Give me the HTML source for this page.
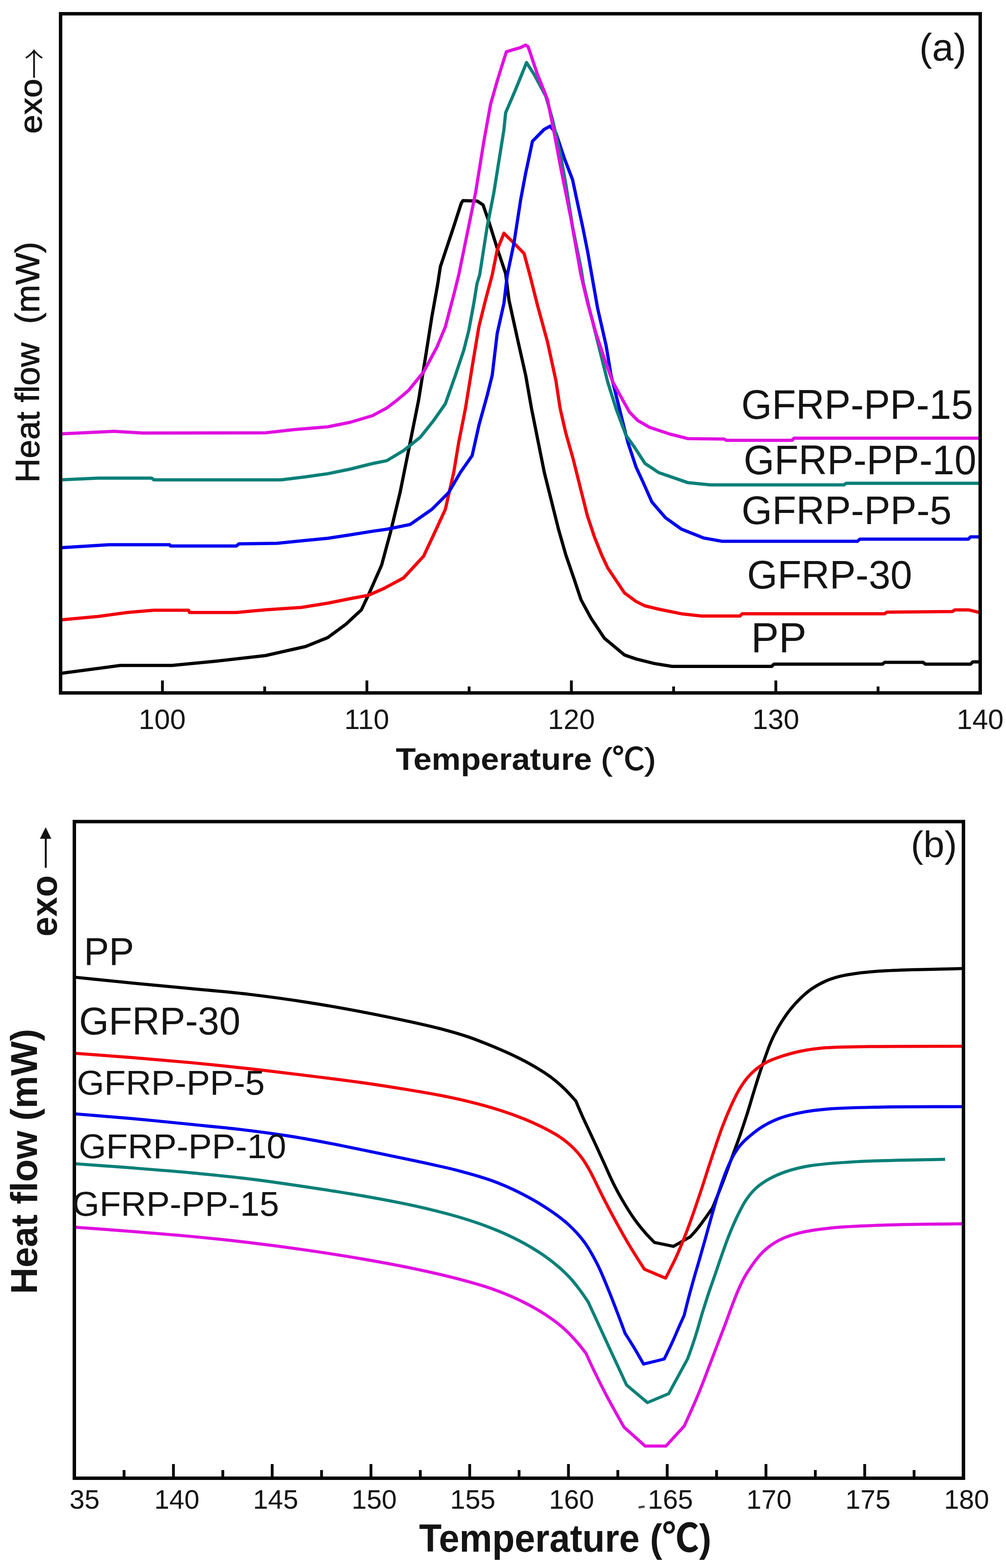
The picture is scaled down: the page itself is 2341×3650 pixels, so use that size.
<!DOCTYPE html><html><head><meta charset="utf-8"><title>DSC curves</title><style>html,body{margin:0;padding:0;background:#fff;}svg{display:block;}</style></head><body>
<svg width="2341" height="3650" viewBox="0 0 2341 3650">
<rect x="0" y="0" width="2341" height="3650" fill="#ffffff"/>
<g fill="none" stroke-linejoin="round" stroke-linecap="butt">
<polyline stroke="#000000" stroke-width="7.5" points="141,1567.5 280,1549 400,1549 503.6,1539 618,1526 711,1505 763,1484 805,1453 841,1419.5 857,1385.7 888,1315.6 909,1237.7 931,1146.4 946.7,1068.5 958.4,1010 974,932 989.6,834.8 1005,737 1018.8,660 1024.7,621 1032.5,597.6 1055.8,527.5 1073.4,473 1077.2,467 1110.4,468 1124,476.8 1137.6,515.8 1157,578 1176.6,636.5 1184.4,698.4 1204,788 1223.3,873.7 1236.7,950 1250,1016.7 1266.7,1100 1283.3,1166.7 1300,1233.3 1316.7,1291.7 1336.7,1350 1352,1396 1375.3,1439 1406.4,1485.7 1453.2,1524.6 1480,1533.9 1522,1544.4 1564,1551.2 1795.6,1551.2 1801,1546 2053.4,1546 2058.6,1541.8 2148,1541.8 2153.3,1546 2258.5,1546 2263.8,1540.7 2281,1540.7"/>
<polyline stroke="#f2000c" stroke-width="7.5" points="141,1443 228,1435 296,1425.7 358,1420.5 438.7,1420.5 441,1425.7 550,1425.7 618,1419.5 701,1414 763,1404 815,1393.5 857,1385.7 893,1370 939,1345.4 985.7,1294.8 1013,1236.3 1036.3,1185.7 1055.8,1100 1067.5,1029.6 1083,951.6 1098.7,854.3 1114.3,760.8 1129.8,698.4 1145.4,640 1157,582 1172.7,543 1180.5,550.8 1200,570 1219.4,589.8 1233,640 1250.6,710 1274,795.8 1293.5,885.4 1303.3,950 1316.7,1008.3 1333.3,1066.7 1350,1133.3 1366.7,1200 1383.3,1250 1400,1291.7 1414.2,1322 1453,1380 1480,1400 1500,1410 1532.6,1418 1585.2,1428.7 1632.5,1434 1722,1434 1727,1428.7 2058.6,1428.7 2064,1425 2216.5,1423.4 2221.7,1419.7 2253.3,1419.7 2281,1426"/>
<polyline stroke="#0000ee" stroke-width="7.5" points="141,1275 254,1268 394.5,1268 397,1271 550,1271 555.6,1266 644,1264.7 711,1258 763,1253 815,1245 867,1236.6 900,1232 954.5,1220.8 1005,1185.7 1044,1146.7 1071.4,1099.7 1098.7,1060.7 1114.3,990.6 1133.7,920.5 1145.4,873.7 1157,776.3 1172.7,706 1180.5,640 1196,566 1211.6,465 1223.3,402.8 1235,348 1239,328.8 1266,301.5 1279.8,293.7 1293.5,309.3 1313,367.8 1332.4,418.4 1344,473 1355.8,527.5 1367.5,586 1377,640 1390.8,718 1410.3,803.6 1422,873.7 1437.6,936 1461,1029.6 1480.4,1088 1495.8,1121 1516.8,1168.3 1548.4,1205 1585.2,1231.4 1637.8,1252.4 1680,1260 1995.5,1260 2000.8,1255 2253.3,1255 2258.5,1249.8 2281,1249.8"/>
<polyline stroke="#0a8078" stroke-width="7.5" points="141,1117 228,1113 353,1113 358,1117 654,1117 711,1110 763,1102.6 815,1092 867,1079 900,1072.4 939,1049 978,1017.9 1009,979 1036.3,940 1059.7,873.7 1079.2,815.3 1091,768.6 1102.6,706 1110,660 1116.2,640 1133.7,527.5 1149,449.6 1172.7,301.5 1176.6,262.6 1200,208 1225.3,145.7 1242.8,173 1270,223.6 1285.7,278 1305,363.9 1316.8,430 1332.4,527.5 1352,625 1357.7,660 1371.4,718 1394.7,811.4 1414.2,889.3 1433.7,951.6 1457,1014 1476.5,1041 1501,1078.9 1532.6,1100 1601,1123.6 1653.6,1128.8 1964,1128.8 1969,1125 2281,1125"/>
<polyline stroke="#e010e0" stroke-width="7.5" points="141,1010 265,1004 332,1008 618,1007.5 685,1000 763,993.5 815,983 867,967.5 900,949.7 923.4,932 950.6,908.8 985.7,866 1016.9,807.5 1036.3,760.8 1055.8,686.7 1067.5,640 1106.5,449.6 1126,328.8 1141.5,243 1157,188.6 1172.7,138 1178.5,120.4 1211.6,110.6 1223,104.8 1229,108.7 1250.6,173 1274,231.4 1289.6,309.3 1305,391 1328.5,508 1351.9,640 1367.5,706 1387,776.3 1406.4,834.8 1426,889.3 1445.4,924.4 1464.9,959.4 1484.3,979 1511.6,994.7 1559,1010.5 1601,1021 1685,1022 1690.4,1025 1843,1025 1848,1020 2281,1020"/>
<path stroke="#000000" stroke-width="7.2" d="M176.0,2275.0 C220.0,2279.5 263.7,2284.1 307.9,2288.4 C352.6,2292.8 397.7,2296.8 442.8,2301.2 C488.1,2305.5 533.7,2309.2 579.0,2314.5 C624.2,2319.9 669.8,2326.1 714.4,2333.1 C758.1,2339.9 802.3,2347.8 843.8,2355.7 C882.4,2363.0 921.1,2371.1 955.3,2378.6 C984.4,2385.0 1012.4,2391.3 1036.2,2397.7 C1055.4,2402.8 1071.6,2407.6 1087.6,2413.0 C1102.0,2417.8 1114.6,2422.8 1127.9,2428.1 C1141.1,2433.2 1154.0,2438.5 1166.9,2444.2 C1180.0,2449.9 1193.0,2455.8 1205.9,2462.3 C1218.9,2468.8 1232.0,2475.8 1244.5,2483.2 C1257.0,2490.6 1269.5,2498.2 1280.9,2506.7 C1292.0,2514.9 1302.2,2523.8 1312.1,2533.1 C1321.9,2542.5 1340.0,2563.0 1340.0,2563.0 C1340.0,2563.0 1349.5,2585.5 1354.5,2596.7 C1359.5,2608.1 1364.9,2619.1 1370.3,2630.7 C1376.0,2642.9 1381.9,2655.3 1387.8,2668.2 C1394.0,2681.7 1400.2,2695.6 1406.7,2709.8 C1413.4,2724.7 1420.1,2740.5 1427.6,2755.3 C1435.0,2770.2 1443.1,2784.8 1451.4,2799.0 C1459.6,2812.8 1468.5,2827.0 1477.2,2839.2 C1485.1,2850.2 1493.2,2860.1 1501.1,2869.2 C1508.4,2877.6 1522.9,2892.2 1522.9,2892.2 C1522.9,2892.2 1567.0,2901.3 1567.0,2901.3 C1567.0,2901.3 1606.0,2879.2 1606.0,2879.2 C1606.0,2879.2 1617.9,2866.4 1623.5,2859.4 C1629.4,2852.3 1634.8,2844.6 1640.4,2836.8 C1646.3,2828.7 1658.0,2811.7 1658.0,2811.7 C1658.0,2811.7 1673.4,2774.4 1680.9,2754.9 C1688.8,2734.4 1697.0,2711.4 1704.2,2691.7 C1710.6,2674.3 1716.4,2658.8 1722.0,2642.7 C1727.5,2627.0 1732.5,2612.1 1737.6,2596.2 C1742.9,2579.6 1748.0,2561.6 1753.1,2544.9 C1758.0,2529.1 1762.8,2513.0 1767.6,2498.5 C1771.8,2485.6 1776.1,2473.7 1780.2,2462.2 C1783.9,2451.9 1787.1,2442.2 1791.0,2432.7 C1794.7,2423.7 1798.2,2415.6 1802.7,2406.9 C1807.4,2397.7 1812.7,2388.2 1818.6,2378.9 C1824.8,2369.2 1831.7,2358.9 1839.1,2349.7 C1846.4,2340.5 1854.3,2331.8 1862.7,2323.8 C1871.0,2315.9 1879.6,2308.3 1889.0,2301.8 C1898.5,2295.2 1908.7,2289.4 1919.5,2284.6 C1930.7,2279.6 1942.6,2275.8 1955.2,2272.6 C1968.7,2269.2 1983.4,2267.1 1998.2,2265.1 C2013.6,2263.1 2028.8,2261.8 2045.7,2260.7 C2064.7,2259.3 2085.4,2258.5 2106.5,2257.8 C2129.5,2257.0 2155.2,2256.7 2178.4,2256.2 C2200.2,2255.6 2220.8,2255.1 2242.0,2254.5"/>
<path stroke="#f2000c" stroke-width="7.2" d="M176.0,2452.0 C220.0,2455.3 263.7,2458.3 307.9,2461.8 C352.6,2465.4 397.7,2469.2 442.8,2473.5 C488.1,2477.8 533.7,2482.6 579.0,2487.6 C624.2,2492.7 669.8,2498.2 714.4,2503.7 C758.0,2509.2 802.3,2514.5 843.8,2520.4 C882.5,2525.9 921.0,2532.0 955.8,2537.8 C986.4,2542.9 1015.1,2547.7 1041.8,2553.2 C1065.3,2558.0 1086.4,2562.9 1107.7,2568.5 C1127.8,2573.7 1147.3,2579.2 1166.3,2585.4 C1184.6,2591.3 1202.9,2597.9 1219.7,2604.7 C1235.2,2611.0 1249.6,2617.5 1263.5,2624.5 C1276.7,2631.2 1289.4,2637.7 1301.1,2645.5 C1312.4,2653.1 1323.2,2661.6 1332.6,2670.8 C1341.6,2679.4 1349.5,2689.0 1356.4,2698.7 C1363.1,2708.0 1368.4,2717.6 1373.8,2727.5 C1379.3,2737.5 1383.8,2747.6 1389.2,2758.4 C1395.1,2770.3 1401.1,2782.9 1407.9,2796.0 C1415.5,2810.7 1423.8,2826.4 1432.5,2842.3 C1441.9,2859.5 1451.7,2877.3 1462.4,2895.4 C1473.9,2914.7 1499.5,2954.5 1499.5,2954.5 C1499.5,2954.5 1548.8,2975.3 1548.8,2975.3 C1548.8,2975.3 1566.1,2942.3 1574.3,2924.2 C1583.3,2904.3 1591.7,2883.2 1600.3,2860.6 C1609.9,2835.3 1619.4,2806.9 1628.6,2779.5 C1638.0,2751.7 1647.1,2721.9 1656.1,2695.1 C1664.4,2670.4 1672.4,2645.8 1680.4,2624.5 C1687.2,2606.4 1693.8,2590.4 1700.8,2574.9 C1707.3,2560.8 1713.7,2547.1 1720.9,2535.1 C1727.4,2524.3 1734.2,2514.4 1741.7,2505.9 C1748.4,2498.3 1755.7,2491.8 1763.2,2485.9 C1770.5,2480.3 1777.6,2475.8 1786.1,2471.5 C1795.8,2466.6 1807.0,2462.7 1818.8,2458.8 C1832.2,2454.5 1847.1,2450.2 1862.5,2447.1 C1879.3,2443.6 1895.0,2441.2 1915.9,2439.4 C1945.4,2436.8 1980.8,2436.9 2022.8,2436.2 C2082.8,2435.3 2168.9,2435.7 2242.0,2435.5"/>
<path stroke="#0000ee" stroke-width="7.2" d="M176.0,2593.0 C220.0,2596.6 263.8,2599.9 307.9,2603.9 C352.3,2607.9 397.7,2612.5 441.4,2617.0 C483.6,2621.3 526.4,2625.3 565.9,2630.0 C601.8,2634.3 635.3,2638.7 668.6,2643.9 C700.3,2648.8 730.1,2654.3 761.3,2660.2 C793.2,2666.2 824.9,2673.0 858.0,2679.8 C893.1,2687.0 930.6,2694.6 966.2,2702.3 C1000.9,2709.9 1037.2,2717.4 1068.9,2725.7 C1096.6,2733.0 1122.1,2740.1 1146.2,2748.9 C1168.2,2756.9 1188.1,2765.8 1208.2,2775.7 C1228.1,2785.6 1247.7,2796.5 1266.1,2808.4 C1284.3,2820.1 1302.6,2832.6 1318.2,2846.4 C1333.0,2859.6 1346.3,2873.3 1358.0,2888.9 C1370.1,2904.9 1380.1,2923.5 1389.4,2941.7 C1398.8,2959.9 1406.3,2979.2 1414.1,2998.1 C1421.9,3016.9 1429.3,3036.5 1436.3,3054.8 C1442.8,3071.7 1454.7,3103.9 1454.7,3103.9 C1454.7,3103.9 1468.9,3126.0 1475.8,3137.7 C1483.1,3149.8 1497.5,3175.3 1497.5,3175.3 C1497.5,3175.3 1545.6,3163.6 1545.6,3163.6 C1545.6,3163.6 1557.9,3138.8 1563.6,3126.2 C1569.4,3113.8 1575.0,3100.2 1580.1,3088.7 C1584.4,3079.1 1592.0,3062.0 1592.0,3062.0 C1592.0,3062.0 1599.2,3033.0 1602.9,3018.9 C1606.5,3005.3 1610.1,2992.5 1613.9,2979.0 C1617.8,2965.1 1622.0,2951.2 1626.2,2936.7 C1630.7,2921.2 1635.3,2905.1 1639.9,2888.7 C1644.7,2871.5 1649.7,2853.0 1654.6,2835.7 C1659.3,2819.1 1663.9,2802.5 1668.8,2787.0 C1673.2,2772.6 1677.8,2758.6 1682.5,2745.6 C1686.8,2733.7 1691.1,2722.5 1695.8,2712.0 C1700.0,2702.6 1704.1,2693.7 1709.0,2685.5 C1713.5,2677.9 1718.1,2671.2 1723.8,2664.6 C1730.0,2657.4 1737.0,2650.9 1745.1,2644.2 C1754.3,2636.4 1765.2,2627.9 1776.7,2621.1 C1789.0,2613.8 1802.6,2607.4 1816.9,2602.2 C1832.2,2596.7 1848.5,2592.8 1865.9,2589.5 C1885.4,2585.7 1904.7,2583.4 1928.7,2581.4 C1960.3,2578.8 1997.0,2578.2 2039.5,2577.3 C2096.9,2576.0 2174.5,2576.4 2242.0,2576.0"/>
<path stroke="#0a8078" stroke-width="7.2" d="M176.0,2709.0 C220.0,2712.2 263.7,2715.3 307.9,2718.7 C352.6,2722.2 397.8,2725.7 442.8,2729.9 C488.1,2734.2 533.7,2738.6 579.0,2744.1 C624.2,2749.6 669.7,2756.4 714.4,2763.1 C758.3,2769.7 802.3,2776.4 844.9,2783.9 C885.7,2791.1 926.4,2798.5 964.8,2807.1 C1000.9,2815.1 1037.0,2824.0 1068.9,2833.4 C1096.8,2841.7 1122.1,2850.3 1146.2,2859.9 C1168.0,2868.5 1188.1,2877.6 1207.5,2887.7 C1225.9,2897.2 1244.0,2908.0 1259.8,2918.6 C1273.8,2928.0 1286.5,2937.6 1298.1,2947.4 C1308.4,2956.2 1317.5,2964.8 1326.2,2974.3 C1334.9,2983.8 1343.1,2994.5 1350.5,3004.3 C1357.3,3013.4 1369.0,3031.2 1369.0,3031.2 C1369.0,3031.2 1380.5,3056.3 1387.1,3070.5 C1394.8,3087.3 1403.7,3106.7 1412.4,3125.6 C1421.5,3145.4 1432.5,3168.7 1440.7,3186.5 C1447.2,3200.5 1458.0,3224.0 1458.0,3224.0 C1458.0,3224.0 1506.6,3265.0 1506.6,3265.0 C1506.6,3265.0 1556.0,3244.2 1556.0,3244.2 C1556.0,3244.2 1600.0,3163.3 1600.0,3163.3 C1600.0,3163.3 1608.2,3141.1 1612.0,3129.7 C1615.9,3118.2 1619.6,3106.5 1623.2,3094.5 C1627.0,3081.9 1630.4,3069.0 1634.4,3055.8 C1638.7,3041.9 1643.2,3027.8 1648.0,3013.1 C1653.3,2997.2 1659.6,2979.8 1665.1,2963.8 C1670.3,2948.7 1675.1,2934.2 1680.3,2919.6 C1685.4,2905.2 1690.1,2891.3 1695.9,2876.8 C1702.0,2861.5 1709.0,2844.8 1716.2,2830.1 C1722.8,2816.5 1729.4,2802.9 1737.3,2791.5 C1744.4,2781.3 1751.8,2772.4 1760.6,2764.6 C1769.3,2756.8 1778.8,2750.6 1789.5,2744.7 C1801.2,2738.1 1814.2,2732.4 1828.4,2727.5 C1844.6,2721.9 1860.7,2717.7 1882.0,2714.1 C1912.6,2709.0 1952.0,2706.5 1995.3,2704.0 C2053.3,2700.7 2131.3,2700.4 2199.3,2698.6"/>
<path stroke="#e010e0" stroke-width="7.2" d="M176.0,2856.8 C220.0,2860.1 263.7,2863.1 307.9,2866.6 C352.6,2870.2 397.8,2873.8 442.8,2878.0 C488.1,2882.3 533.7,2887.0 579.0,2892.4 C624.2,2897.7 669.7,2903.7 714.4,2910.2 C758.3,2916.6 802.3,2923.5 844.9,2930.9 C885.7,2938.0 926.3,2945.4 964.8,2953.5 C1000.8,2961.1 1036.9,2969.4 1068.9,2977.8 C1096.7,2985.2 1122.1,2992.1 1146.2,3000.6 C1168.1,3008.3 1188.1,3016.6 1207.9,3026.0 C1227.2,3035.3 1246.2,3045.5 1263.5,3056.5 C1279.9,3066.9 1295.9,3078.4 1309.4,3090.1 C1321.4,3100.5 1331.8,3111.8 1341.3,3122.5 C1349.7,3132.0 1363.8,3150.6 1363.8,3150.6 C1363.8,3150.6 1374.4,3174.3 1381.2,3188.3 C1389.8,3206.2 1400.5,3228.0 1411.6,3249.0 C1423.9,3272.3 1452.0,3322.0 1452.0,3322.0 C1452.0,3322.0 1501.4,3366.2 1501.4,3366.2 C1501.4,3366.2 1549.5,3366.2 1549.5,3366.2 C1549.5,3366.2 1592.3,3319.5 1592.3,3319.5 C1592.3,3319.5 1615.3,3269.0 1625.5,3244.2 C1635.3,3220.6 1644.2,3196.2 1652.6,3174.4 C1659.9,3155.2 1666.7,3137.1 1673.2,3120.2 C1678.9,3105.3 1684.1,3092.0 1689.3,3078.2 C1694.2,3065.0 1698.8,3051.8 1703.5,3039.3 C1708.0,3027.6 1712.3,3016.2 1716.9,3005.4 C1721.3,2995.3 1725.6,2985.5 1730.5,2976.5 C1735.0,2968.1 1740.0,2960.4 1745.0,2952.8 C1749.9,2945.4 1754.8,2938.1 1760.2,2931.4 C1765.6,2924.7 1771.0,2918.2 1777.3,2912.3 C1783.7,2906.3 1790.7,2900.7 1798.2,2895.7 C1806.0,2890.5 1813.9,2886.1 1823.6,2882.0 C1835.2,2877.1 1848.1,2872.9 1863.7,2869.3 C1884.4,2864.5 1909.7,2861.0 1937.6,2858.2 C1973.7,2854.5 2016.8,2853.3 2062.1,2851.7 C2116.6,2849.8 2182.0,2849.6 2242.0,2848.6"/>
</g>
<g fill="none" stroke="#050505">
<rect x="141" y="32" width="2140" height="1581" stroke-width="8"/>
<path d="M378.0,1613V1584 M853.8,1613V1584 M1329.6,1613V1584 M1805.4,1613V1584 M615.9,1613V1598 M1091.7,1613V1598 M1567.5,1613V1598 M2043.3,1613V1598" stroke-width="6.5"/>
<rect x="173" y="1912.5" width="2069" height="1528.5" stroke-width="8"/>
<path d="M403.6,3441V3408 M633.4,3441V3408 M863.2,3441V3408 M1093.0,3441V3408 M1322.8,3441V3408 M1552.6,3441V3408 M1782.4,3441V3408 M2012.2,3441V3408 M288.7,3441V3422 M518.5,3441V3422 M748.3,3441V3422 M978.1,3441V3422 M1207.9,3441V3422 M1437.7,3441V3422 M1667.5,3441V3422 M1897.3,3441V3422 M2127.1,3441V3422" stroke-width="6.5"/>
</g>
<g stroke="#111" fill="#111">
<path d="M106.5,2020 V1948" stroke-width="4.5" fill="none"/>
<path d="M92.8,1952.5 L106.3,1925.5 L119.4,1952.5 Z" stroke="none"/>
<path d="M1486,3509 L1500,3507" stroke-width="5" stroke="#444"/>
</g>
<g>
<text transform="translate(90.98,1123.39) rotate(-90)" x="0" y="0" font-family="'Liberation Sans', 'Noto Sans CJK SC', sans-serif" font-size="77.92" font-weight="normal" fill="#141414" stroke="#141414" stroke-width="1.2" stroke-linejoin="round" textLength="560.40" lengthAdjust="spacingAndGlyphs" xml:space="preserve" style="white-space:pre">Heat flow  (mW)</text>
<text transform="translate(97.26,311.13) rotate(-90)" x="0" y="0" font-family="'Liberation Sans', 'Noto Sans CJK SC', sans-serif" font-size="73.40" font-weight="normal" fill="#141414" stroke="#141414" stroke-width="1.2" stroke-linejoin="round" textLength="127.83" lengthAdjust="spacingAndGlyphs">exo</text>
<text transform="translate(110.22,183.43) rotate(-90)" x="0" y="0" font-family="'Noto Serif CJK SC', serif" font-size="81.67" font-weight="normal" fill="#141414" stroke="#141414" stroke-width="0.6" stroke-linejoin="round" textLength="70.85" lengthAdjust="spacingAndGlyphs">→</text>
<text x="2139.20" y="141.49" font-family="'Liberation Sans', 'Noto Sans CJK SC', sans-serif" font-size="89.18" font-weight="normal" fill="#141414" textLength="109.66" lengthAdjust="spacingAndGlyphs">(a)</text>
<text x="920.94" y="1792.43" font-family="'Liberation Sans', 'Noto Sans CJK SC', sans-serif" font-size="73.00" font-weight="bold" fill="#141414" textLength="604.92" lengthAdjust="spacingAndGlyphs">Temperature <tspan font-weight="normal" stroke="#141414" stroke-width="1.8">(℃)</tspan></text>
<text x="1724.93" y="974.95" font-family="'Liberation Sans', 'Noto Sans CJK SC', sans-serif" font-size="96.03" font-weight="normal" fill="#141414" textLength="539.57" lengthAdjust="spacingAndGlyphs">GFRP-PP-15</text>
<text x="1730.58" y="1103.79" font-family="'Liberation Sans', 'Noto Sans CJK SC', sans-serif" font-size="97.14" font-weight="normal" fill="#141414" textLength="541.49" lengthAdjust="spacingAndGlyphs">GFRP-PP-10</text>
<text x="1725.46" y="1219.84" font-family="'Liberation Sans', 'Noto Sans CJK SC', sans-serif" font-size="92.63" font-weight="normal" fill="#141414" textLength="488.98" lengthAdjust="spacingAndGlyphs">GFRP-PP-5</text>
<text x="1738.54" y="1369.84" font-family="'Liberation Sans', 'Noto Sans CJK SC', sans-serif" font-size="92.63" font-weight="normal" fill="#141414" textLength="384.02" lengthAdjust="spacingAndGlyphs">GFRP-30</text>
<text x="1747.82" y="1517.76" font-family="'Liberation Sans', 'Noto Sans CJK SC', sans-serif" font-size="98.30" font-weight="normal" fill="#141414" textLength="129.04" lengthAdjust="spacingAndGlyphs">PP</text>
<text x="377.47" y="1696.98" font-family="'Liberation Sans', 'Noto Sans CJK SC', sans-serif" font-size="65.48" font-weight="normal" fill="#141414" text-anchor="middle">100</text>
<text x="853.56" y="1696.98" font-family="'Liberation Sans', 'Noto Sans CJK SC', sans-serif" font-size="65.48" font-weight="normal" fill="#141414" text-anchor="middle">110</text>
<text x="1329.68" y="1696.98" font-family="'Liberation Sans', 'Noto Sans CJK SC', sans-serif" font-size="65.48" font-weight="normal" fill="#141414" text-anchor="middle">120</text>
<text x="1805.26" y="1696.98" font-family="'Liberation Sans', 'Noto Sans CJK SC', sans-serif" font-size="65.48" font-weight="normal" fill="#141414" text-anchor="middle">130</text>
<text x="2280.87" y="1696.98" font-family="'Liberation Sans', 'Noto Sans CJK SC', sans-serif" font-size="65.48" font-weight="normal" fill="#141414" text-anchor="middle">140</text>
<text transform="translate(86.11,3012.21) rotate(-90)" x="0" y="0" font-family="'Liberation Sans', 'Noto Sans CJK SC', sans-serif" font-size="87.11" font-weight="bold" fill="#141414" textLength="617.14" lengthAdjust="spacingAndGlyphs">Heat flow (mW)</text>
<text transform="translate(131.65,2179.97) rotate(-90)" x="0" y="0" font-family="'Liberation Sans', 'Noto Sans CJK SC', sans-serif" font-size="85.48" font-weight="bold" fill="#141414" textLength="142.53" lengthAdjust="spacingAndGlyphs">exo</text>
<text x="2119.44" y="1994.83" font-family="'Liberation Sans', 'Noto Sans CJK SC', sans-serif" font-size="84.70" font-weight="normal" fill="#141414" textLength="107.49" lengthAdjust="spacingAndGlyphs">(b)</text>
<text x="975.15" y="3611.81" font-family="'Liberation Sans', 'Noto Sans CJK SC', sans-serif" font-size="90.96" font-weight="bold" fill="#141414" textLength="680.23" lengthAdjust="spacingAndGlyphs">Temperature (℃)</text>
<text x="195.13" y="2246.48" font-family="'Liberation Sans', 'Noto Sans CJK SC', sans-serif" font-size="90.02" font-weight="normal" fill="#141414" textLength="116.89" lengthAdjust="spacingAndGlyphs">PP</text>
<text x="183.91" y="2408.33" font-family="'Liberation Sans', 'Noto Sans CJK SC', sans-serif" font-size="89.93" font-weight="normal" fill="#141414" textLength="375.62" lengthAdjust="spacingAndGlyphs">GFRP-30</text>
<text x="178.72" y="2548.00" font-family="'Liberation Sans', 'Noto Sans CJK SC', sans-serif" font-size="80.08" font-weight="normal" fill="#141414" textLength="437.53" lengthAdjust="spacingAndGlyphs">GFRP-PP-5</text>
<text x="183.34" y="2696.00" font-family="'Liberation Sans', 'Noto Sans CJK SC', sans-serif" font-size="79.74" font-weight="normal" fill="#141414" textLength="482.76" lengthAdjust="spacingAndGlyphs">GFRP-PP-10</text>
<text x="167.85" y="2829.99" font-family="'Liberation Sans', 'Noto Sans CJK SC', sans-serif" font-size="80.58" font-weight="normal" fill="#141414" textLength="481.55" lengthAdjust="spacingAndGlyphs">GFRP-PP-15</text>
<text x="196.70" y="3512.40" font-family="'Liberation Sans', 'Noto Sans CJK SC', sans-serif" font-size="63.00" font-weight="normal" fill="#141414" text-anchor="middle">35</text>
<text x="411.50" y="3512.40" font-family="'Liberation Sans', 'Noto Sans CJK SC', sans-serif" font-size="63.00" font-weight="normal" fill="#141414" text-anchor="middle">140</text>
<text x="641.40" y="3512.39" font-family="'Liberation Sans', 'Noto Sans CJK SC', sans-serif" font-size="63.09" font-weight="normal" fill="#141414" text-anchor="middle">145</text>
<text x="870.80" y="3512.40" font-family="'Liberation Sans', 'Noto Sans CJK SC', sans-serif" font-size="63.00" font-weight="normal" fill="#141414" text-anchor="middle">150</text>
<text x="1100.22" y="3512.39" font-family="'Liberation Sans', 'Noto Sans CJK SC', sans-serif" font-size="63.09" font-weight="normal" fill="#141414" text-anchor="middle">155</text>
<text x="1330.10" y="3512.40" font-family="'Liberation Sans', 'Noto Sans CJK SC', sans-serif" font-size="63.00" font-weight="normal" fill="#141414" text-anchor="middle">160</text>
<text x="1560.00" y="3512.40" font-family="'Liberation Sans', 'Noto Sans CJK SC', sans-serif" font-size="63.00" font-weight="normal" fill="#141414" text-anchor="middle">165</text>
<text x="1789.40" y="3512.40" font-family="'Liberation Sans', 'Noto Sans CJK SC', sans-serif" font-size="63.00" font-weight="normal" fill="#141414" text-anchor="middle">170</text>
<text x="2019.82" y="3512.39" font-family="'Liberation Sans', 'Noto Sans CJK SC', sans-serif" font-size="63.09" font-weight="normal" fill="#141414" text-anchor="middle">175</text>
<text x="2249.20" y="3512.40" font-family="'Liberation Sans', 'Noto Sans CJK SC', sans-serif" font-size="63.00" font-weight="normal" fill="#141414" text-anchor="middle">180</text>
</g>
</svg></body></html>
